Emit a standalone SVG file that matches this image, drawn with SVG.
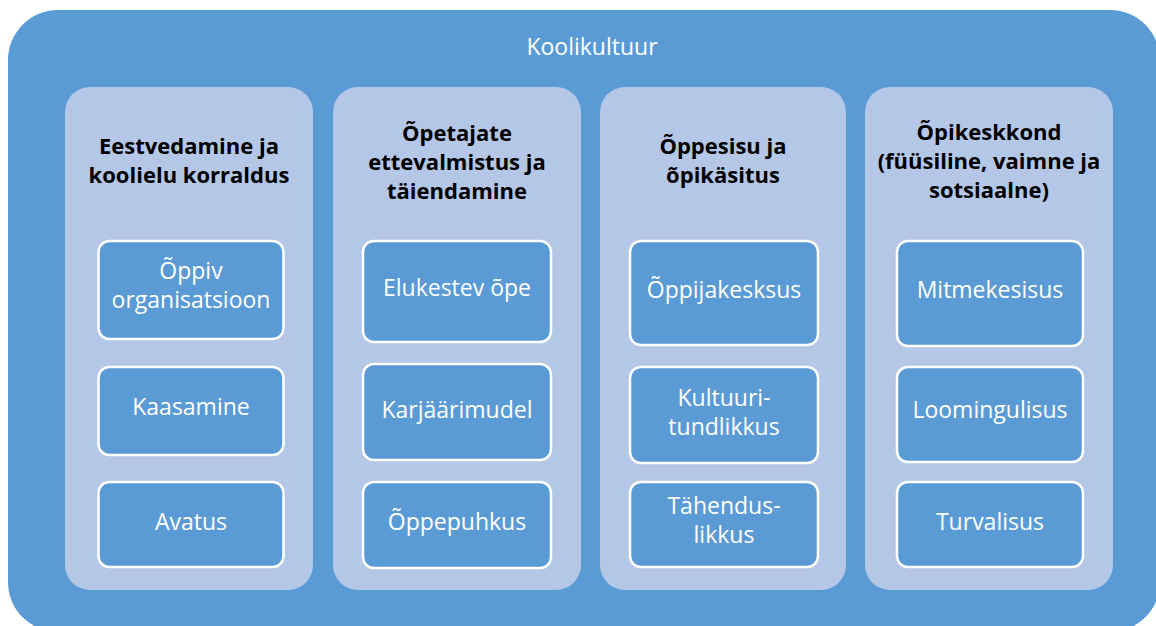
<svg xmlns="http://www.w3.org/2000/svg" width="1156" height="626" viewBox="0 0 1156 626">
<style>
.outer{fill:#5B9BD5}
.col{fill:#B4C7E7}
.box{fill:#5B9BD5;stroke:#FFFFFF;stroke-width:2.5}
.title{font-family:"Open Sans","Noto Sans",sans-serif;font-size:23px;fill:#FFFFFF;text-anchor:middle}
.head{font-family:"Open Sans","Noto Sans",sans-serif;font-size:22px;font-weight:bold;fill:#000000;text-anchor:middle}
.lbl{font-family:"Open Sans","Noto Sans",sans-serif;font-size:23px;fill:#FFFFFF;text-anchor:middle}
</style>
<rect width="1156" height="626" fill="#FFFFFF"/>
<g id="koolikultuur">
<rect class="outer" x="8" y="10" width="1152" height="622" rx="50" ry="50"/>
<text class="title" x="592" y="55">Koolikultuur</text>
</g>
<g id="col1">
<rect class="col" x="65" y="87" width="248" height="503" rx="25" ry="25"/>
<text class="head" x="189" y="154"><tspan x="189">Eestvedamine ja</tspan><tspan x="189" dy="29">koolielu korraldus</tspan></text>
</g>
<g id="col1-box1">
<rect class="box" x="98.5" y="241" width="185" height="98" rx="11" ry="11"/>
<text class="lbl" x="191" y="279"><tspan x="191">Õppiv</tspan><tspan x="191" dy="29">organisatsioon</tspan></text>
</g>
<g id="col1-box2">
<rect class="box" x="98.5" y="367" width="185" height="88" rx="11" ry="11"/>
<text class="lbl" x="191" y="415">Kaasamine</text>
</g>
<g id="col1-box3">
<rect class="box" x="98.5" y="482" width="185" height="85" rx="11" ry="11"/>
<text class="lbl" x="191" y="530">Avatus</text>
</g>
<g id="col2">
<rect class="col" x="333" y="87" width="248" height="503" rx="25" ry="25"/>
<text class="head" x="457" y="141"><tspan x="457">Õpetajate</tspan><tspan x="457" dy="29">ettevalmistus ja</tspan><tspan x="457" dy="29">täiendamine</tspan></text>
</g>
<g id="col2-box1">
<rect class="box" x="363" y="241" width="188" height="101" rx="11" ry="11"/>
<text class="lbl" x="457" y="296">Elukestev õpe</text>
</g>
<g id="col2-box2">
<rect class="box" x="363" y="364" width="188" height="96" rx="11" ry="11"/>
<text class="lbl" x="457" y="418">Karjäärimudel</text>
</g>
<g id="col2-box3">
<rect class="box" x="363" y="482" width="188" height="86" rx="11" ry="11"/>
<text class="lbl" x="457" y="530">Õppepuhkus</text>
</g>
<g id="col3">
<rect class="col" x="600" y="87" width="246" height="503" rx="25" ry="25"/>
<text class="head" x="723" y="154"><tspan x="723">Õppesisu ja</tspan><tspan x="723" dy="29">õpikäsitus</tspan></text>
</g>
<g id="col3-box1">
<rect class="box" x="630" y="241" width="188" height="104" rx="11" ry="11"/>
<text class="lbl" x="724" y="298">Õppijakesksus</text>
</g>
<g id="col3-box2">
<rect class="box" x="630" y="367" width="188" height="96" rx="11" ry="11"/>
<text class="lbl" x="724" y="406"><tspan x="724">Kultuuri-</tspan><tspan x="724" dy="29">tundlikkus</tspan></text>
</g>
<g id="col3-box3">
<rect class="box" x="630" y="482" width="188" height="85" rx="11" ry="11"/>
<text class="lbl" x="724" y="514"><tspan x="724">Tähendus-</tspan><tspan x="724" dy="29">likkus</tspan></text>
</g>
<g id="col4">
<rect class="col" x="865" y="87" width="248" height="503" rx="25" ry="25"/>
<text class="head" x="989" y="140"><tspan x="989">Õpikeskkond</tspan><tspan x="989" dy="29">(füüsiline, vaimne ja</tspan><tspan x="989" dy="29">sotsiaalne)</tspan></text>
</g>
<g id="col4-box1">
<rect class="box" x="897" y="241" width="186" height="105" rx="11" ry="11"/>
<text class="lbl" x="990" y="298">Mitmekesisus</text>
</g>
<g id="col4-box2">
<rect class="box" x="897" y="367" width="186" height="95" rx="11" ry="11"/>
<text class="lbl" x="990" y="418">Loomingulisus</text>
</g>
<g id="col4-box3">
<rect class="box" x="897" y="482" width="186" height="85" rx="11" ry="11"/>
<text class="lbl" x="990" y="530">Turvalisus</text>
</g>
</svg>
